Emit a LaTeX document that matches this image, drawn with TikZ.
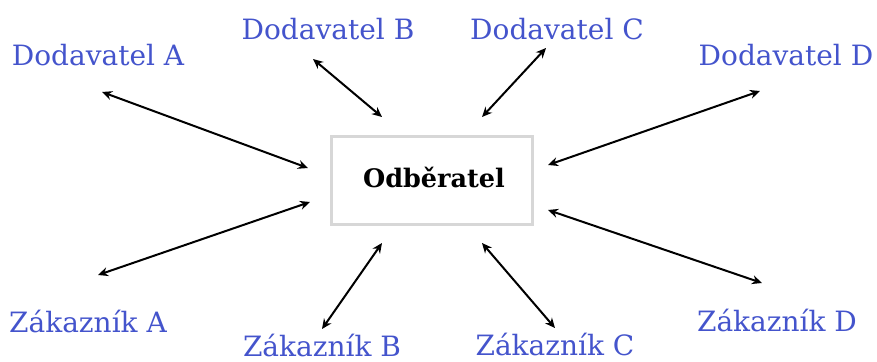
\documentclass[tikz,border=0pt]{standalone}
\usepackage{fontspec}
\setmainfont{DejaVu Serif}
\usetikzlibrary{arrows.meta}
\definecolor{lbl}{RGB}{68,84,204}
\definecolor{boxgray}{RGB}{215,215,215}
\tikzset{
  lab/.style={text=lbl,font=\fontsize{28}{32}\selectfont,inner sep=0pt,anchor=base},
  link/.style={line width=2pt,{Stealth[length=10pt,width=9pt]}-{Stealth[length=10pt,width=9pt]}},
  centerbox/.style={draw=boxgray,line width=3pt,minimum width=201pt,minimum height=88pt,inner sep=0pt}
}
\begin{document}
\begin{tikzpicture}[x=1pt,y=-1pt]
\useasboundingbox (0,0) rectangle (877,361);
\node[centerbox] (o) at (431.5,180) {};
\node[font=\fontsize{25.5}{30}\selectfont\bfseries,inner sep=0pt,anchor=base] (ot) at (434,187) {Odběratel};
\node[lab] (da) at (98,66) {Dodavatel A};
\node[lab] (db) at (328,40) {Dodavatel B};
\node[lab] (dc) at (557,40) {Dodavatel C};
\node[lab] (dd) at (786,65) {Dodavatel D};
\node[lab] (za) at (88,332) {Zákazník A};
\node[lab] (zb) at (322,356) {Zákazník B};
\node[lab] (zc) at (555,355) {Zákazník C};
\node[lab] (zd) at (777,331) {Zákazník D};
% arrow ends
\coordinate (a1) at (102,92);  \coordinate (a2) at (308,168);
\coordinate (b1) at (313,59);  \coordinate (b2) at (382,117);
\coordinate (c1) at (546,48);  \coordinate (c2) at (482,117);
\coordinate (d1) at (760,91);  \coordinate (d2) at (548,165);
\coordinate (e1) at (98,275);  \coordinate (e2) at (310,202);
\coordinate (f1) at (322,329); \coordinate (f2) at (382,243);
\coordinate (g1) at (555,328); \coordinate (g2) at (482,243);
\coordinate (h1) at (762,283); \coordinate (h2) at (548,210);
\draw[link] (a1) -- (a2);
\draw[link] (b1) -- (b2);
\draw[link] (c1) -- (c2);
\draw[link] (d1) -- (d2);
\draw[link] (e1) -- (e2);
\draw[link] (f1) -- (f2);
\draw[link] (g1) -- (g2);
\draw[link] (h1) -- (h2);
\end{tikzpicture}
\end{document}
